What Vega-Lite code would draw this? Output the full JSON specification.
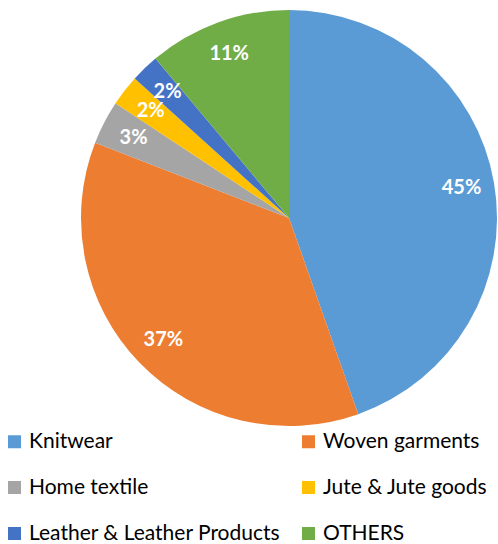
{
  "$schema": "https://vega.github.io/schema/vega-lite/v6.json",
  "autosize": "none",
  "width": 418,
  "height": 436,
  "padding": {"left": 80, "top": 0, "right": 0, "bottom": 108},
  "background": "white",
  "data": {
    "values": [
      {"category": "Knitwear", "share": 44.6, "label": "45%"},
      {"category": "Woven garments", "share": 36.3, "label": "37%"},
      {"category": "Home textile", "share": 3.4, "label": "3%"},
      {"category": "Jute & Jute goods", "share": 2.4, "label": "2%"},
      {"category": "Leather & Leather Products", "share": 2.2, "label": "2%"},
      {"category": "OTHERS", "share": 11.1, "label": "11%"}
    ]
  },
  "encoding": {
    "theta": {"field": "share", "type": "quantitative", "stack": true},
    "order": {"field": "idx", "type": "quantitative"}
  },
  "transform": [{"window": [{"op": "row_number", "as": "idx"}]}],
  "layer": [
    {
      "mark": {"type": "arc", "outerRadius": 208},
      "encoding": {
        "color": {
          "field": "category",
          "type": "nominal",
          "sort": null,
          "scale": {
            "domain": ["Knitwear", "Woven garments", "Home textile", "Jute & Jute goods", "Leather & Leather Products", "OTHERS"],
            "range": ["#5B9BD5", "#ED7D31", "#A5A5A5", "#FFC000", "#4472C4", "#70AD47"]
          },
          "legend": {
            "title": null,
            "orient": "none",
            "legendX": -76,
            "legendY": 431,
            "direction": "horizontal",
            "columns": 2,
            "symbolType": "square",
            "symbolSize": 169,
            "symbolStrokeWidth": 0,
            "symbolOpacity": 1,
            "labelFont": "Lato",
            "labelFontSize": 21,
            "labelColor": "#000000",
            "labelOffset": 4,
            "labelLimit": 0,
            "rowPadding": 24,
            "columnPadding": 17
          }
        }
      }
    },
    {
      "mark": {"type": "text", "radius": 175, "font": "Lato", "fontWeight": "bold", "fontSize": 20, "color": "white", "baseline": "middle", "align": "center"},
      "encoding": {
        "text": {"field": "label", "type": "nominal"}
      }
    }
  ]
}
